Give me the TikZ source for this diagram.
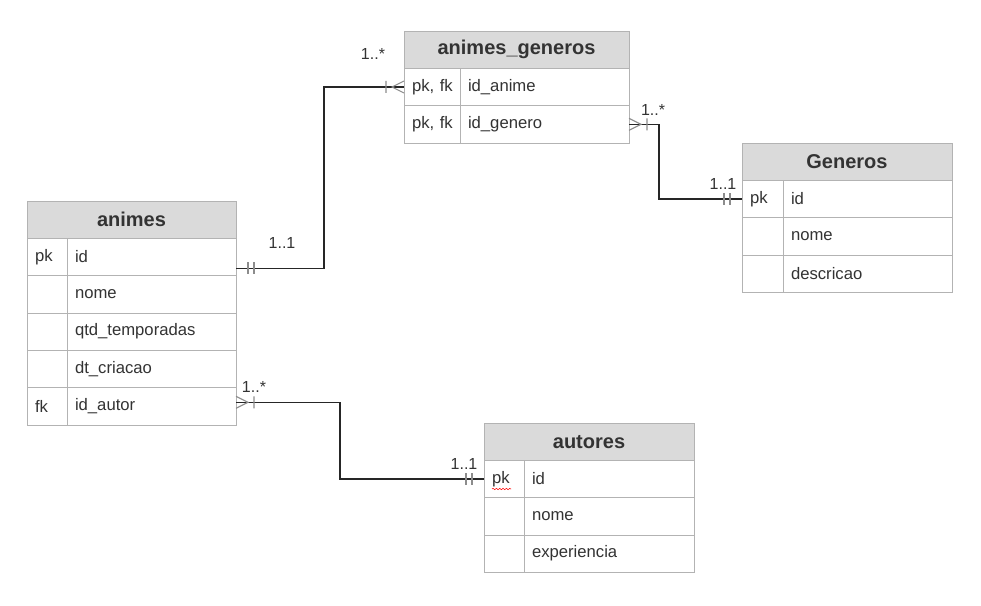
\documentclass[tikz,border=0pt]{standalone}
\usepackage{fontspec}
\setmainfont{Liberation Sans}
\usepackage{tikz}
\usetikzlibrary{positioning, calc, decorations.pathmorphing}
\definecolor{hdrgray}{HTML}{DADADA}
\definecolor{linegray}{HTML}{B3B3B3}
\definecolor{textdark}{HTML}{333333}
\definecolor{markgray}{HTML}{8C8C8C}
\tikzset{
  cell/.style={draw=linegray, rectangle, minimum height=28pt, inner xsep=6pt,
    inner ysep=0pt, outer sep=0pt, align=left, text=textdark,
    font=\fontsize{12.5}{15}\selectfont},
  hdr/.style={cell, fill=hdrgray, align=center, text width=#1,
    font=\bfseries\fontsize{15}{18}\selectfont},
  keycell/.style={cell, text width=#1},
  fieldcell/.style={cell, text width=#1},
  rel/.style={draw=black!85, line width=0.9pt},
  erm/.style={draw=markgray, line width=0.8pt},
  lbl/.style={text=textdark, font=\fontsize{12}{14}\selectfont, inner sep=0pt},
  node distance=0pt
}
% #1 = end point on the table, #2 = +1/-1 (side away from the table)
\newcommand\OneMark[2]{%
  \draw[erm] ($(#1)+(#2*12,-6)$) -- ++(0,12)
             ($(#1)+(#2*18,-6)$) -- ++(0,12);}
\newcommand\ManyMark[2]{%
  \draw[erm] ($(#1)+(0,-6)$) -- ($(#1)+(#2*12,0)$) -- ($(#1)+(0,6)$)
             ($(#1)+(#2*18,-6)$) -- ++(0,12);}

\begin{document}
\begin{tikzpicture}[x=0.75pt, y=-0.75pt]
  \useasboundingbox[fill=white] (0,0) rectangle (981,606);

  % animes
  \node[hdr=144.75pt, anchor=north west] (animes) at (27,201) {animes};
  \node[keycell=18pt, below right=of animes.south west] (animes-k1) {pk};
  \node[fieldcell=114.75pt, right=of animes-k1] (animes-f1) {id};
  \node[keycell=18pt, below=of animes-k1] (animes-k2) {};
  \node[fieldcell=114.75pt, right=of animes-k2] (animes-f2) {nome};
  \node[keycell=18pt, below=of animes-k2] (animes-k3) {};
  \node[fieldcell=114.75pt, right=of animes-k3] (animes-f3) {qtd\_temporadas};
  \node[keycell=18pt, below=of animes-k3] (animes-k4) {};
  \node[fieldcell=114.75pt, right=of animes-k4] (animes-f4) {dt\_criacao};
  \node[keycell=18pt, below=of animes-k4] (animes-k5) {fk};
  \node[fieldcell=114.75pt, right=of animes-k5] (animes-f5) {id\_autor};

  % animes_generos
  \node[hdr=156.75pt, anchor=north west] (ag) at (404,31) {animes\_generos};
  \node[keycell=30pt, below right=of ag.south west] (ag-k1) {\mbox{pk, fk}};
  \node[fieldcell=114.75pt, right=of ag-k1] (ag-f1) {id\_anime};
  \node[keycell=30pt, below=of ag-k1] (ag-k2) {\mbox{pk, fk}};
  \node[fieldcell=114.75pt, right=of ag-k2] (ag-f2) {id\_genero};

  % Generos
  \node[hdr=145.5pt, anchor=north west] (gen) at (742,143) {Generos};
  \node[keycell=18.75pt, below right=of gen.south west] (gen-k1) {pk};
  \node[fieldcell=114.75pt, right=of gen-k1] (gen-f1) {id};
  \node[keycell=18.75pt, below=of gen-k1] (gen-k2) {};
  \node[fieldcell=114.75pt, right=of gen-k2] (gen-f2) {nome};
  \node[keycell=18.75pt, below=of gen-k2] (gen-k3) {};
  \node[fieldcell=114.75pt, right=of gen-k3] (gen-f3) {descricao};

  % autores
  \node[hdr=145.5pt, anchor=north west] (aut) at (484,423) {autores};
  \node[keycell=18pt, below right=of aut.south west] (aut-k1) {pk};
  \node[fieldcell=115.5pt, right=of aut-k1] (aut-f1) {id};
  \node[keycell=18pt, below=of aut-k1] (aut-k2) {};
  \node[fieldcell=115.5pt, right=of aut-k2] (aut-f2) {nome};
  \node[keycell=18pt, below=of aut-k2] (aut-k3) {};
  \node[fieldcell=115.5pt, right=of aut-k3] (aut-f3) {experiencia};
  \draw[red, decorate, decoration={snake, amplitude=0.5pt, segment length=2.5pt}]
    (492,489) -- (511,489);

  % animes -- animes_generos
  \coordinate (l1a) at ([yshift=5.5pt]animes-f1.south east);
  \draw[rel] (l1a) -- ++(88,0) |- (ag-k1.west);
  \OneMark{l1a}{1}
  \ManyMark{ag-k1.west}{-1}
  \node[lbl] at (282,243) {1..1};
  \node[lbl] at (373,54) {1..*};

  % animes_generos -- Generos
  \draw[rel] (ag-f2.east) -- ++(30,0) |- (gen-k1.west);
  \ManyMark{ag-f2.east}{1}
  \OneMark{gen-k1.west}{-1}
  \node[lbl] at (653,110) {1..*};
  \node[lbl] at (723,184) {1..1};

  % animes -- autores
  \coordinate (l3a) at ([yshift=3pt]animes-f5.east);
  \draw[rel] (l3a) -- ++(104,0) |- (aut-k1.west);
  \ManyMark{l3a}{1}
  \OneMark{aut-k1.west}{-1}
  \node[lbl] at (254,387) {1..*};
  \node[lbl] at (464,464) {1..1};
\end{tikzpicture}
\end{document}
